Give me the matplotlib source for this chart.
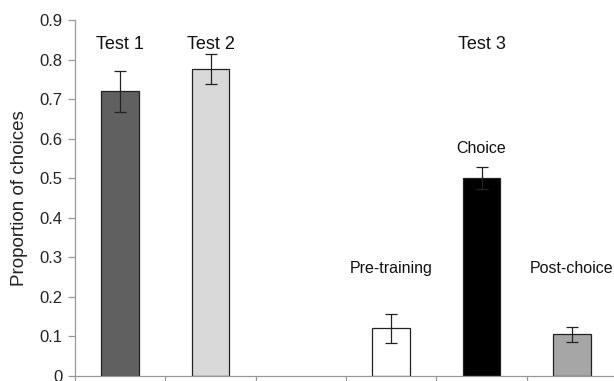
import matplotlib
matplotlib.use('Agg')
import matplotlib.pyplot as plt

plt.rcParams['font.family'] = ['Liberation Sans', 'DejaVu Sans']

# ─── Data
#
conditions = ['Test 1', 'Test 2', '', 'Pre-training', 'Choice', 'Post-choice']
means = [0.72, 0.775, None, 0.12, 0.50, 0.105]
errors = [0.052, 0.038, None, 0.037, 0.027, 0.019]
colors = ['#606060', '#d9d9d9', 'white', 'white', 'black', '#a6a6a6']

# label placement (y in data units)
label_y = [0.837, 0.837, None, 0.272, 0.574, 0.272]

fig = plt.figure(figsize=(6.14, 3.81), dpi=100)
ax = fig.add_axes([75 / 614, 5.3 / 381, 542 / 614, 355.7 / 381])

for i, (m, e, c) in enumerate(zip(means, errors, colors)):
    if m is None:
        continue
    ax.bar(i, m, width=0.42, color=c, edgecolor='#222222', linewidth=0.9, zorder=2)
    ax.errorbar(i, m, yerr=e, fmt='none', ecolor='#222222', elinewidth=0.9,
                capsize=4, capthick=0.9, zorder=3)

for i, (name, y) in enumerate(zip(conditions, label_y)):
    if y is None or name.startswith('Test'):
        continue
    ax.text(i, y, name, ha='center', va='center', fontsize=11.5, color='#111111')

ax.text(0, 0.837, 'Test 1', ha='center', va='center', fontsize=13, color='#111111')
ax.text(1, 0.837, 'Test 2', ha='center', va='center', fontsize=13, color='#111111')
ax.text(4, 0.837, 'Test 3', ha='center', va='center', fontsize=13, color='#111111')

ax.set_xlim(-0.5, 5.5)
ax.set_ylim(0, 0.9)
ax.set_yticks([i / 10 for i in range(10)])
ax.set_yticklabels(['0'] + [f'{i / 10:.1f}' for i in range(1, 10)])
ax.set_xticks([i - 0.5 for i in range(7)])
ax.set_xticklabels([])

for s in ['top', 'right']:
    ax.spines[s].set_visible(False)
for s in ['left', 'bottom']:
    ax.spines[s].set_color('#999999')
    ax.spines[s].set_linewidth(0.9)

ax.tick_params(axis='y', length=5, width=0.9, color='#999999', labelsize=12,
               labelcolor='#222222', pad=4)
ax.tick_params(axis='x', length=5, width=0.9, color='#999999')

ax.set_ylabel('Proportion of choices', fontsize=13.5, color='#222222', labelpad=8)

fig.savefig('out.png', dpi=100)
